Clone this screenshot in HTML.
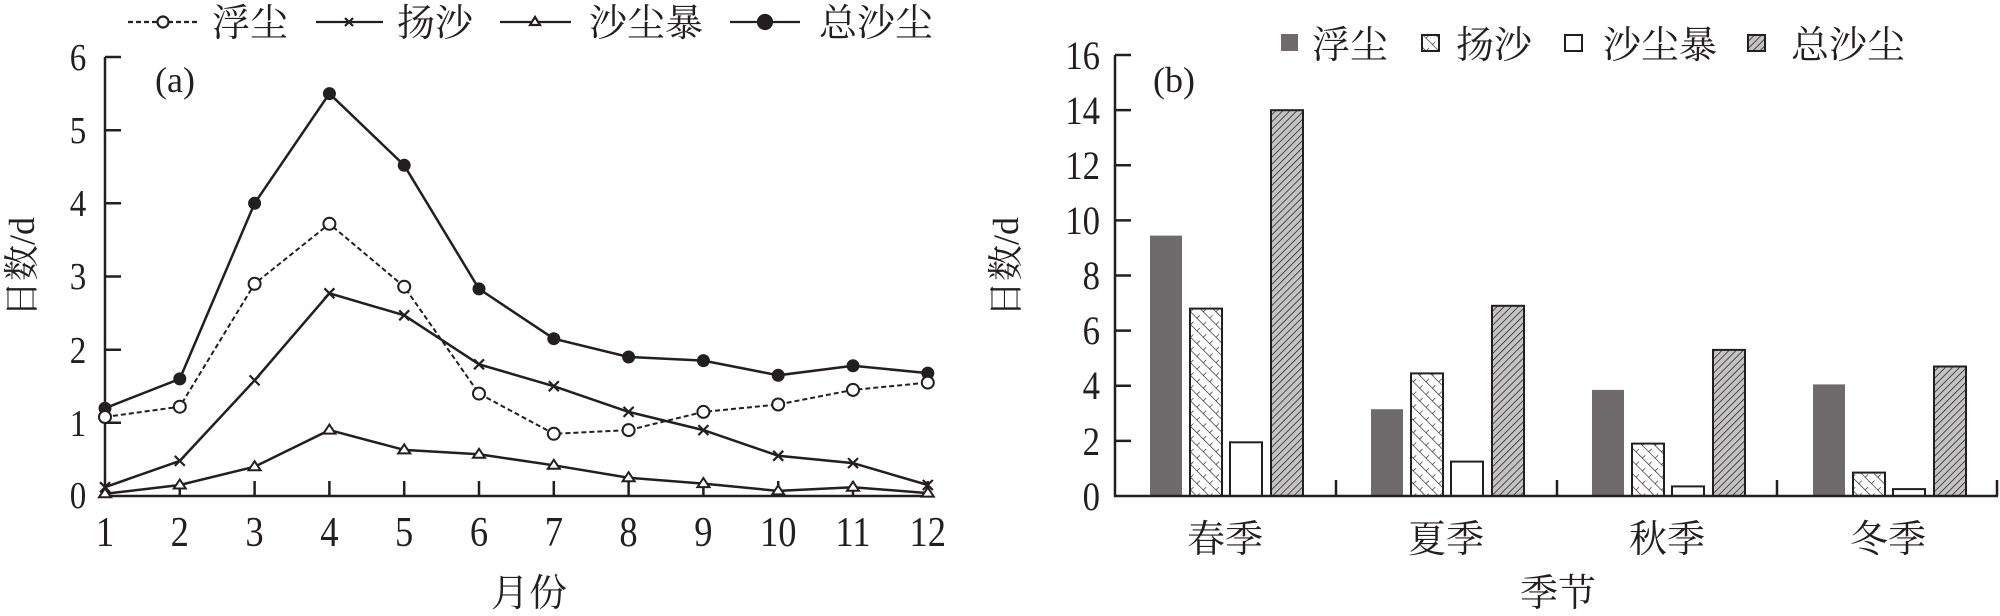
<!DOCTYPE html>
<html><head><meta charset="utf-8"><style>
html,body{margin:0;padding:0;background:#fff;}
svg{display:block;}
.t{font-family:"Liberation Serif","Noto Serif CJK SC",serif;fill:#231f20;}
.c{font-family:"Liberation Serif","Noto Serif CJK SC",serif;fill:#231f20;}
</style></head><body>
<svg width="2000" height="616" viewBox="0 0 2000 616" xmlns="http://www.w3.org/2000/svg">
<defs>
<pattern id="diag" width="5" height="5" patternUnits="userSpaceOnUse" patternTransform="rotate(45)">
<rect width="5" height="5" fill="#c4c4c4"/><line x1="0" y1="0" x2="0" y2="5" stroke="#231f20" stroke-width="1.5"/></pattern>
<pattern id="cross" width="9" height="9" patternUnits="userSpaceOnUse" patternTransform="rotate(-45)">
<rect width="9" height="9" fill="#fff"/><line x1="0" y1="0" x2="0" y2="9" stroke="#231f20" stroke-width="1.3"/><line x1="0" y1="0" x2="4.5" y2="0" stroke="#231f20" stroke-width="1.3"/></pattern>
</defs>
<g stroke="#231f20" stroke-width="2.5" fill="none">
<path d="M105,57 V496 H930"/>
<path d="M105,57h16 M105,130.2h16 M105,203.3h16 M105,276.5h16 M105,349.7h16 M105,422.8h16"/>
<path d="M179.8,496v-15 M254.6,496v-15 M329.4,496v-15 M404.2,496v-15 M479,496v-15 M553.8,496v-15 M628.6,496v-15 M703.4,496v-15 M778.2,496v-15 M853,496v-15 M927.8,496v-15"/>
<polyline points="105,408.2 179.8,378.9 254.6,203.3 329.4,93.6 404.2,165.3 479,288.9 553.8,338.7 628.6,357 703.4,360.6 778.2,375.3 853,365.8 927.8,373.1"/>
<polyline stroke-dasharray="5,3" stroke-width="2" points="105,417 179.8,406.7 254.6,283.8 329.4,223.8 404.2,286.7 479,393.6 553.8,433.8 628.6,430.1 703.4,411.9 778.2,404.5 853,389.9 927.8,382.6"/>
<polyline points="105,487.2 179.8,460.9 254.6,380.4 329.4,293.3 404.2,315.3 479,364.3 553.8,386.2 628.6,411.9 703.4,430.1 778.2,455.8 853,463.1 927.8,485"/>
<polyline points="105,493.8 179.8,485 254.6,466.7 329.4,430.1 404.2,449.9 479,454.3 553.8,465.3 628.6,477.7 703.4,483.6 778.2,490.9 853,487.2 927.8,493.1"/>
</g>
<g fill="#231f20">
<circle cx="105" cy="408.2" r="6.5"/><circle cx="179.8" cy="378.9" r="6.5"/><circle cx="254.6" cy="203.3" r="6.5"/><circle cx="329.4" cy="93.6" r="6.5"/><circle cx="404.2" cy="165.3" r="6.5"/><circle cx="479" cy="288.9" r="6.5"/><circle cx="553.8" cy="338.7" r="6.5"/><circle cx="628.6" cy="357" r="6.5"/><circle cx="703.4" cy="360.6" r="6.5"/><circle cx="778.2" cy="375.3" r="6.5"/><circle cx="853" cy="365.8" r="6.5"/><circle cx="927.8" cy="373.1" r="6.5"/>
</g>
<g fill="#fff" stroke="#231f20" stroke-width="2">
<circle cx="105" cy="417" r="6"/><circle cx="179.8" cy="406.7" r="6"/><circle cx="254.6" cy="283.8" r="6"/><circle cx="329.4" cy="223.8" r="6"/><circle cx="404.2" cy="286.7" r="6"/><circle cx="479" cy="393.6" r="6"/><circle cx="553.8" cy="433.8" r="6"/><circle cx="628.6" cy="430.1" r="6"/><circle cx="703.4" cy="411.9" r="6"/><circle cx="778.2" cy="404.5" r="6"/><circle cx="853" cy="389.9" r="6"/><circle cx="927.8" cy="382.6" r="6"/>
<path d="M105,488.3l6,9h-12z M179.8,479.5l6,9h-12z M254.6,461.2l6,9h-12z M329.4,424.6l6,9h-12z M404.2,444.4l6,9h-12z M479,448.8l6,9h-12z M553.8,459.8l6,9h-12z M628.6,472.2l6,9h-12z M703.4,478.1l6,9h-12z M778.2,485.4l6,9h-12z M853,481.7l6,9h-12z M927.8,487.6l6,9h-12z"/>
</g>
<g stroke="#231f20" stroke-width="2.2">
<path d="M100,482.2l10,10m0,-10l-10,10 M174.8,455.9l10,10m0,-10l-10,10 M249.6,375.4l10,10m0,-10l-10,10 M324.4,288.3l10,10m0,-10l-10,10 M399.2,310.3l10,10m0,-10l-10,10 M474,359.3l10,10m0,-10l-10,10 M548.8,381.2l10,10m0,-10l-10,10 M623.6,406.9l10,10m0,-10l-10,10 M698.4,425.1l10,10m0,-10l-10,10 M773.2,450.8l10,10m0,-10l-10,10 M848,458.1l10,10m0,-10l-10,10 M922.8,480l10,10m0,-10l-10,10"/>
</g>
<g stroke="#231f20" stroke-width="2.2" fill="none">
<line x1="128" y1="22" x2="198" y2="22" stroke-dasharray="5,3"/>
<circle cx="163" cy="22" r="5.5" fill="#fff"/>
<line x1="316" y1="22" x2="383" y2="22"/><path d="M345,18l8,8m0,-8l-8,8"/>
<line x1="500" y1="22" x2="571" y2="22"/><path d="M535,17l5,8h-10z" fill="#fff"/>
<line x1="730" y1="22" x2="800" y2="22"/><circle cx="765" cy="22" r="7" fill="#231f20"/>
</g>
<g class="c" font-size="38">
<text x="212" y="36">浮尘</text><text x="397" y="36">扬沙</text><text x="589" y="36">沙尘暴</text><text x="819" y="36">总沙尘</text>
</g>
<g class="t" font-size="38" text-anchor="middle" transform="scale(0.87,1)">
<text x="89.7" y="70">6</text><text x="89.7" y="143">5</text><text x="89.7" y="216">4</text><text x="89.7" y="289">3</text><text x="89.7" y="363">2</text><text x="89.7" y="436">1</text><text x="89.7" y="508">0</text>
</g>
<g class="t" font-size="42" text-anchor="middle" transform="scale(0.87,1)">
<text x="120.7" y="546">1</text><text x="206.7" y="546">2</text><text x="292.6" y="546">3</text><text x="378.6" y="546">4</text><text x="464.6" y="546">5</text><text x="550.6" y="546">6</text><text x="636.6" y="546">7</text><text x="722.5" y="546">8</text><text x="808.5" y="546">9</text><text x="894.5" y="546">10</text><text x="980.5" y="546">11</text><text x="1066.4" y="546">12</text>
</g>
<text class="t" font-size="36" text-anchor="middle" x="175" y="92">(a)</text>
<text class="c" font-size="38" text-anchor="middle" x="529" y="606">月份</text>
<text class="c" font-size="36" text-anchor="middle" transform="translate(34,267) rotate(-90)">日数/d</text>

<g stroke="#231f20" stroke-width="2">
<rect x="1150" y="235.6" width="32" height="260.4" fill="#6f6a6b" stroke="none"/>
<rect x="1190" y="308.6" width="32" height="187.4" fill="url(#cross)"/>
<rect x="1230" y="442.3" width="32" height="53.7" fill="#fff"/>
<rect x="1271" y="110.2" width="32" height="385.8" fill="url(#diag)"/>
<rect x="1371" y="409.2" width="32" height="86.8" fill="#6f6a6b" stroke="none"/>
<rect x="1411" y="373.4" width="32" height="122.6" fill="url(#cross)"/>
<rect x="1451" y="461.6" width="32" height="34.4" fill="#fff"/>
<rect x="1492" y="305.8" width="32" height="190.2" fill="url(#diag)"/>
<rect x="1592" y="389.9" width="32" height="106.1" fill="#6f6a6b" stroke="none"/>
<rect x="1632" y="443.6" width="32" height="52.4" fill="url(#cross)"/>
<rect x="1672" y="486.4" width="32" height="9.6" fill="#fff"/>
<rect x="1713" y="349.9" width="32" height="146.1" fill="url(#diag)"/>
<rect x="1813" y="384.4" width="32" height="111.6" fill="#6f6a6b" stroke="none"/>
<rect x="1853" y="472.6" width="32" height="23.4" fill="url(#cross)"/>
<rect x="1893" y="489.1" width="32" height="6.9" fill="#fff"/>
<rect x="1934" y="366.5" width="32" height="129.5" fill="url(#diag)"/>
</g>
<g stroke="#231f20" stroke-width="2.5" fill="none">
<path d="M1115,55 V496 H1998"/>
<path d="M1115,55h16 M1115,110.1h16 M1115,165.2h16 M1115,220.4h16 M1115,275.5h16 M1115,330.6h16 M1115,385.8h16 M1115,440.9h16"/>
<path d="M1336,496v-16 M1557,496v-16 M1777,496v-16 M1997,496v-16"/>
</g>
<g class="t" font-size="40" text-anchor="end" transform="scale(0.87,1)">
<text x="1264.4" y="69">16</text><text x="1264.4" y="124">14</text><text x="1264.4" y="179">12</text><text x="1264.4" y="234">10</text><text x="1264.4" y="289">8</text><text x="1264.4" y="344">6</text><text x="1264.4" y="399">4</text><text x="1264.4" y="455">2</text><text x="1264.4" y="510">0</text>
</g>
<text class="t" font-size="36" x="1153" y="92">(b)</text>
<g class="c" font-size="38" text-anchor="middle">
<text x="1225" y="552">春季</text><text x="1446" y="552">夏季</text><text x="1667" y="552">秋季</text><text x="1888" y="552">冬季</text>
<text x="1558" y="606">季节</text>
</g>
<text class="c" font-size="36" text-anchor="middle" transform="translate(1018,267) rotate(-90)">日数/d</text>
<rect x="1281" y="34" width="17" height="17" fill="#6f6a6b"/>
<rect x="1422" y="35" width="17" height="16" fill="url(#cross)" stroke="#231f20" stroke-width="2"/>
<rect x="1565" y="35" width="17" height="16" fill="#fff" stroke="#231f20" stroke-width="2"/>
<rect x="1748" y="35" width="17" height="16" fill="url(#diag)" stroke="#231f20" stroke-width="2"/>
<g class="c" font-size="38">
<text x="1312" y="58">浮尘</text><text x="1456" y="58">扬沙</text><text x="1603" y="58">沙尘暴</text><text x="1791" y="58">总沙尘</text>
</g>
</svg>
</body></html>
